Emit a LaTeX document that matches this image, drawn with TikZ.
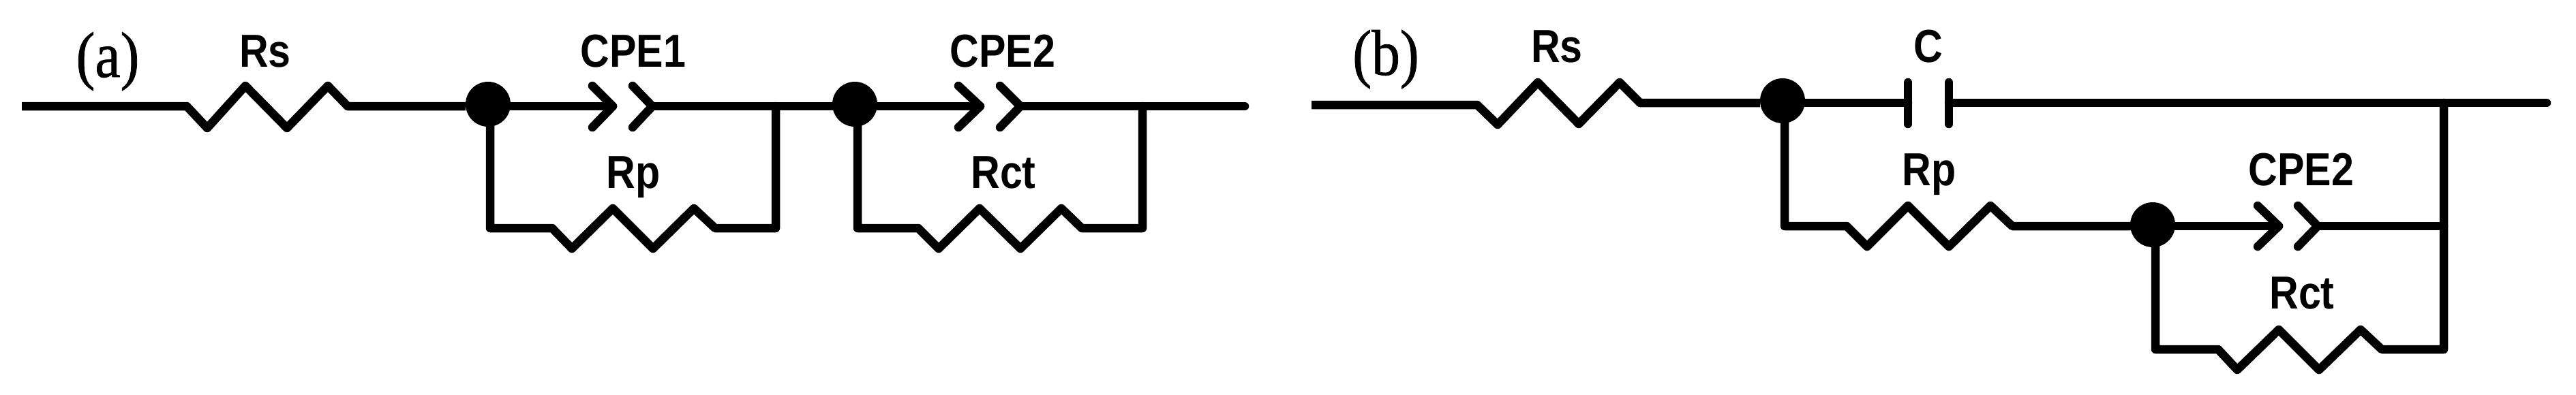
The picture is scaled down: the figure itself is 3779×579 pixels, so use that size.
\documentclass[tikz,border=0pt]{standalone}
\usepackage{fontspec}
\usetikzlibrary{positioning}
\newfontfamily\lblfont[FakeStretch=0.87]{Liberation Sans Bold}
\newfontfamily\tagfont[FakeStretch=0.88,FakeBold=0.8]{Liberation Serif}
\tikzset{
  wire/.style={line width=12.5pt, line join=round, line cap=round},
  junction/.style={circle, fill=black, inner sep=0pt, minimum size=66pt},
  lbl/.style={font=\lblfont\fontsize{68}{68}\selectfont, anchor=base, inner sep=0pt},
  tag/.style={font=\tagfont\fontsize{95}{95}\selectfont, anchor=base, inner sep=0pt}
}
\begin{document}
\begin{tikzpicture}[x=1pt, y=-1pt]
  \path[use as bounding box] (0,0) rectangle (3779,579);

  % Panel (a) nodes
  \node at (158,113) (taga) [tag] {(a)};
  \node at (716,153) (dota1) [junction] {};
  \node at (1254,153) (dota2) [junction] {};
  \node at (389,98) (rsa) [lbl] {Rs};
  \node at (929,98) (cpe1a) [lbl] {CPE1};
  \node at (929,276) (rpa) [lbl] {Rp};
  \node at (1471,98) (cpe2a) [lbl] {CPE2};
  \node at (1472,276) (rcta) [lbl] {Rct};
  \coordinate (ina) at (32,156);
  \coordinate (outa) at (1826,156);
  \coordinate (tip1a) at (899,156);
  \coordinate (back1a) at (957,156);
  \coordinate (tip2a) at (1438,156);
  \coordinate (back2a) at (1497,156);
  \coordinate (rpin) at (810,335);
  \coordinate (rpout) at (1049,335);
  \coordinate (rctin) at (1347,335);
  \coordinate (rctout) at (1587,335);
  \coordinate (join1a) at (1138,156);
  \coordinate (join2a) at (1676,156);

  % Panel (a) wires
  \draw[wire, line cap=butt] (ina) -- (274,156) -- (304,188) -- (360,126) -- (421,188) -- (481,126) -- (510,156) -- (dota1.west |- tip1a);
  \draw[wire] (dota1.east |- tip1a) -- (tip1a);
  \draw[wire] (869,126) -- (tip1a) -- (869,187);
  \draw[wire] (928,126) -- (back1a) -- (928,187);
  \draw[wire] (back1a) -- (dota2.west |- back1a);
  \draw[wire] (dota2.east |- tip2a) -- (tip2a);
  \draw[wire] (1406,126) -- (tip2a) -- (1406,187);
  \draw[wire] (1467,126) -- (back2a) -- (1467,187);
  \draw[wire] (back2a) -- (outa);
  \draw[wire] (719,180) |- (rpin) -- (839,365) -- (899,306) -- (958,365) -- (1018,306) -- (rpout) -| (join1a);
  \draw[wire] (1258,180) |- (rctin) -- (1377,365) -- (1437,306) -- (1497,365) -- (1557,306) -- (rctout) -| (join2a);

  % Panel (b) nodes
  \node at (2033,110) (tagb) [tag] {(b)};
  \node at (2615,148) (dotb1) [junction] {};
  \node at (3158,330) (dotb2) [junction] {};
  \node at (2284,91) (rsb) [lbl] {Rs};
  \node at (2829,91) (cb) [lbl] {C};
  \node at (2830,272) (rpb) [lbl] {Rp};
  \node at (3376,272) (cpe2b) [lbl] {CPE2};
  \node at (3377,453) (rctb) [lbl] {Rct};
  \coordinate (inb) at (1924,154);
  \coordinate (outb) at (3736,151);
  \coordinate (plate1) at (2799,151);
  \coordinate (plate2) at (2859,151);
  \coordinate (tipb) at (3343,332);
  \coordinate (backb) at (3400,332);
  \coordinate (join1b) at (3585,151);
  \coordinate (join2b) at (3585,332);
  \coordinate (rpbin) at (2709,332);
  \coordinate (rpbout) at (2952,332);
  \coordinate (rctbin) at (3254,513);
  \coordinate (rctbout) at (3494,513);

  % Panel (b) wires
  \draw[wire, line cap=butt] (inb) -- (2167,154) -- (2197,183) -- (2256,121) -- (2316,182) -- (2376,121) -- (2406,151) -- (dotb1.west |- plate1);
  \draw[wire] (dotb1.east |- plate1) -- (plate1);
  \draw[wire] (2799,121) -- (2799,182);
  \draw[wire] (2859,121) -- (2859,182);
  \draw[wire] (plate2) -- (outb);
  \draw[wire] (2618,170) |- (rpbin) -- (2739,362) -- (2799,302) -- (2859,362) -- (2920,302) -- (rpbout) -- (dotb2.west |- rpbout);
  \draw[wire] (dotb2.east |- tipb) -- (tipb);
  \draw[wire] (3312,302) -- (tipb) -- (3312,362);
  \draw[wire] (3371,302) -- (backb) -- (3371,362);
  \draw[wire] (backb) -- (join2b);
  \draw[wire] (3162,350) |- (rctbin) -- (3282,543) -- (3343,484) -- (3402,543) -- (3463,484) -- (rctbout) -| (join1b);
\end{tikzpicture}
\end{document}
